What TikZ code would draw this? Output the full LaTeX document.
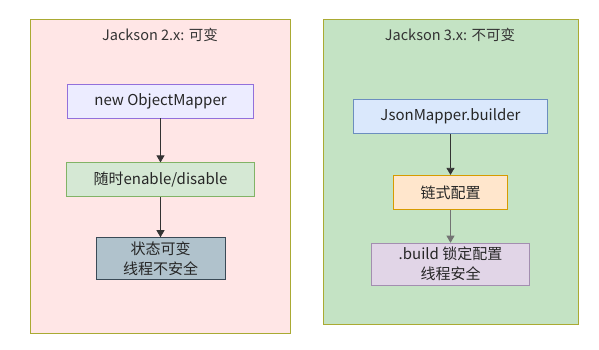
\documentclass[tikz,border=0pt]{standalone}
\usepackage{fontspec}
\setmainfont{Noto Sans CJK SC}
\usepackage{xcolor}
\usepackage{tikz}
\usetikzlibrary{arrows.meta,positioning}
\definecolor{olive}{HTML}{AAAA33}
\definecolor{pinkbg}{HTML}{FFE6E6}
\definecolor{greenbg}{HTML}{C4E3C4}
\definecolor{lavender}{HTML}{ECECFF}
\definecolor{purpleline}{HTML}{9370DB}
\definecolor{lightgreen}{HTML}{D5E8D4}
\definecolor{greenline}{HTML}{82B366}
\definecolor{slate}{HTML}{B0C2CC}
\definecolor{slateline}{HTML}{3A4A56}
\definecolor{lightblue}{HTML}{DAE8FC}
\definecolor{blueline}{HTML}{6C8EBF}
\definecolor{lightorange}{HTML}{FFE6CC}
\definecolor{orangeline}{HTML}{D79B00}
\definecolor{lightpurple}{HTML}{E1D5E7}
\definecolor{purpleline2}{HTML}{A38EB0}
\definecolor{ink}{HTML}{333333}
\tikzset{
  panel/.style={
    draw=olive,line width=.8pt,anchor=north west,inner sep=0pt
  },
  title/.style={
    font=\fontsize{14.5}{18}\selectfont,text=ink,inner sep=0pt
  },
  stepbox/.style={
    draw,line width=.8pt,align=center,inner xsep=27pt,inner ysep=4pt,
    minimum height=34pt,font=\fontsize{15}{20}\selectfont,text=black!85
  },
  arrow/.style={-{Triangle[length=7pt,width=8pt]},draw=ink,line width=.8pt}
}
\begin{document}
\begin{tikzpicture}[x=1pt,y=-1pt]
\useasboundingbox[fill=white] (0,0) rectangle (599,349);
% panels
\node[panel,fill=pinkbg,minimum width=260pt,minimum height=314pt] (old) at (30,19) {};
\node[panel,fill=greenbg,minimum width=255pt,minimum height=305pt] (new) at (323,19) {};
\node[title] (oldtitle) at (160,35) {Jackson 2.x: 可变};
\node[title] (newtitle) at (450,35) {Jackson 3.x: 不可变};

% Jackson 2.x
\node[stepbox,fill=lavender,draw=purpleline] (om) at (160.5,101) {new ObjectMapper};
\node[stepbox,fill=lightgreen,draw=greenline,below=44pt of om] (toggle) {随时enable/disable};
\node[stepbox,fill=slate,draw=slateline,below=40pt of toggle] (mutable) {状态可变\\线程不安全};

% Jackson 3.x
\node[stepbox,fill=lightblue,draw=blueline] (builder) at (450.5,116.5) {JsonMapper.builder};
\node[stepbox,fill=lightorange,draw=orangeline,below=41pt of builder] (chain) {链式配置};
\node[stepbox,fill=lightpurple,draw=purpleline2,below=33pt of chain] (build) {.build 锁定配置\\线程安全};

\draw[arrow] (om)--(toggle);
\draw[arrow] (toggle)--(mutable);
\draw[arrow] (builder)--(chain);
\draw[arrow,draw=black!55] (chain)--(build);
\end{tikzpicture}
\end{document}
